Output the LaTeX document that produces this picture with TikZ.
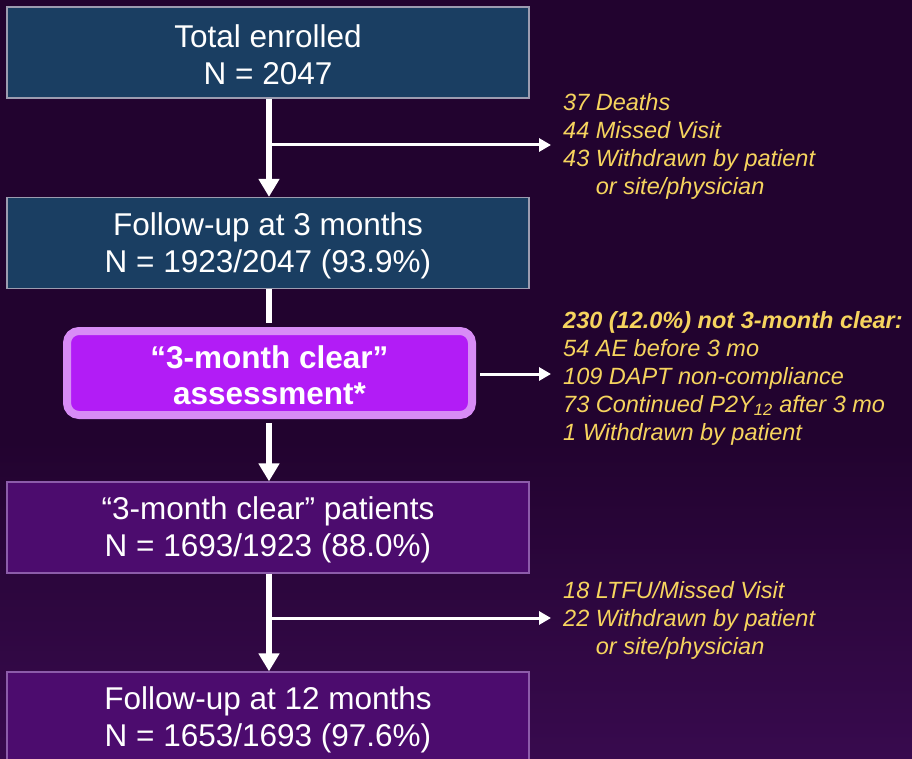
\documentclass[tikz,border=0pt]{standalone}
\usepackage{fontspec}
\setmainfont{Liberation Sans}
\usetikzlibrary{arrows.meta}
\definecolor{bg}{HTML}{22032F}
\definecolor{bgl}{HTML}{380A4E}
\definecolor{boxblue}{HTML}{1A3E62}
\definecolor{boxpurp}{HTML}{4C0C6E}
\definecolor{edgeblue}{HTML}{9C9CB0}
\definecolor{edgepurp}{HTML}{8C5CAA}
\definecolor{vio}{HTML}{B21CF6}
\definecolor{lav}{HTML}{D88CF6}
\definecolor{yel}{HTML}{F6D45E}
\tikzset{
  box/.style={draw=#1, line width=1.2pt, minimum width=522pt, minimum height=91pt,
    inner sep=0pt},
  boxtext/.style={inner sep=0pt, text=white, font=\fontsize{31.5}{37}\selectfont,
    align=center, yshift=-2.5pt},
  assess/.style={draw=lav, fill=vio, line width=8pt, rounded corners=12pt,
    minimum width=405pt, minimum height=84pt, inner sep=0pt},
  assesstext/.style={inner sep=0pt, text=white,
    font=\fontsize{31.5}{36}\selectfont\bfseries, align=center, yshift=-2pt},
  side/.style={text=yel, font=\fontsize{23.5}{28}\selectfont\itshape, align=left,
    inner sep=0pt, anchor=west},
  mainarrow/.style={white, line width=6pt, -{Triangle[width=20pt,length=18pt]}},
  mainline/.style={white, line width=6pt},
  branch/.style={white, line width=3pt, -{Triangle[width=13pt,length=12pt]}, shorten >=12pt}
}
\begin{document}
\begin{tikzpicture}[x=1pt,y=-1pt]
\fill[bg] (0,0) rectangle (912,759);
\shade[top color=bg, bottom color=bgl] (0,440) rectangle (912,759);
\useasboundingbox (0,0) rectangle (912,759);

% boxes
\node[box=edgeblue, fill=boxblue] (b1) at (268,52.5) {};
\node[boxtext] (b1t) at (b1.center) {Total enrolled\\N = 2047};
\node[box=edgeblue, fill=boxblue] (b2) at (268,243) {};
\node[boxtext] (b2t) at (b2.center) {Follow-up at 3 months\\N = 1923/2047 (93.9\%)};
\node[assess] (a) at (269.5,373) {};
\node[assesstext] (at) at (a.center) {“3-month clear”\\assessment*};
\node[box=edgepurp, fill=boxpurp] (b3) at (268,527.5) {};
\node[boxtext] (b3t) at (b3.center) {“3-month clear” patients\\N = 1693/1923 (88.0\%)};
\node[box=edgepurp, fill=boxpurp] (b4) at (268,717.5) {};
\node[boxtext] (b4t) at (b4.center) {Follow-up at 12 months\\N = 1653/1693 (97.6\%)};

% side texts
\node[side] (s1) at (563,146) {37 Deaths\\44 Missed Visit\\43 Withdrawn by patient\\\phantom{43 }or site/physician};
\node[side] (s2) at (563,378) {\bfseries 230 (12.0\%) not 3-month clear:\\54 AE before 3 mo\\109 DAPT non-compliance\\73 Continued P2Y\textsubscript{12} after 3 mo\\1 Withdrawn by patient};
\node[side] (s3) at (563,620) {18 LTFU/Missed Visit\\22 Withdrawn by patient\\\phantom{22 }or site/physician};

% junctions
\coordinate (j1) at (269,145);
\coordinate (j2) at (269,374);
\coordinate (j3) at (269,618);

% connectors
\draw[mainarrow] (b1.south -| j1) -- (b2.north -| j1);
\draw[branch] (j1) -- (j1 -| s1.west);
\draw[mainline, shorten >=4pt] (b2.south -| j1) -- (a.north -| j1);
\draw[mainarrow, shorten <=4pt] (a.south -| j1) -- (b3.north -| j1);
\draw[branch, shorten <=4pt] (a.east |- j2) -- (j2 -| s2.west);
\draw[mainarrow] (b3.south -| j3) -- (b4.north -| j3);
\draw[branch] (j3) -- (j3 -| s3.west);
\end{tikzpicture}
\end{document}
